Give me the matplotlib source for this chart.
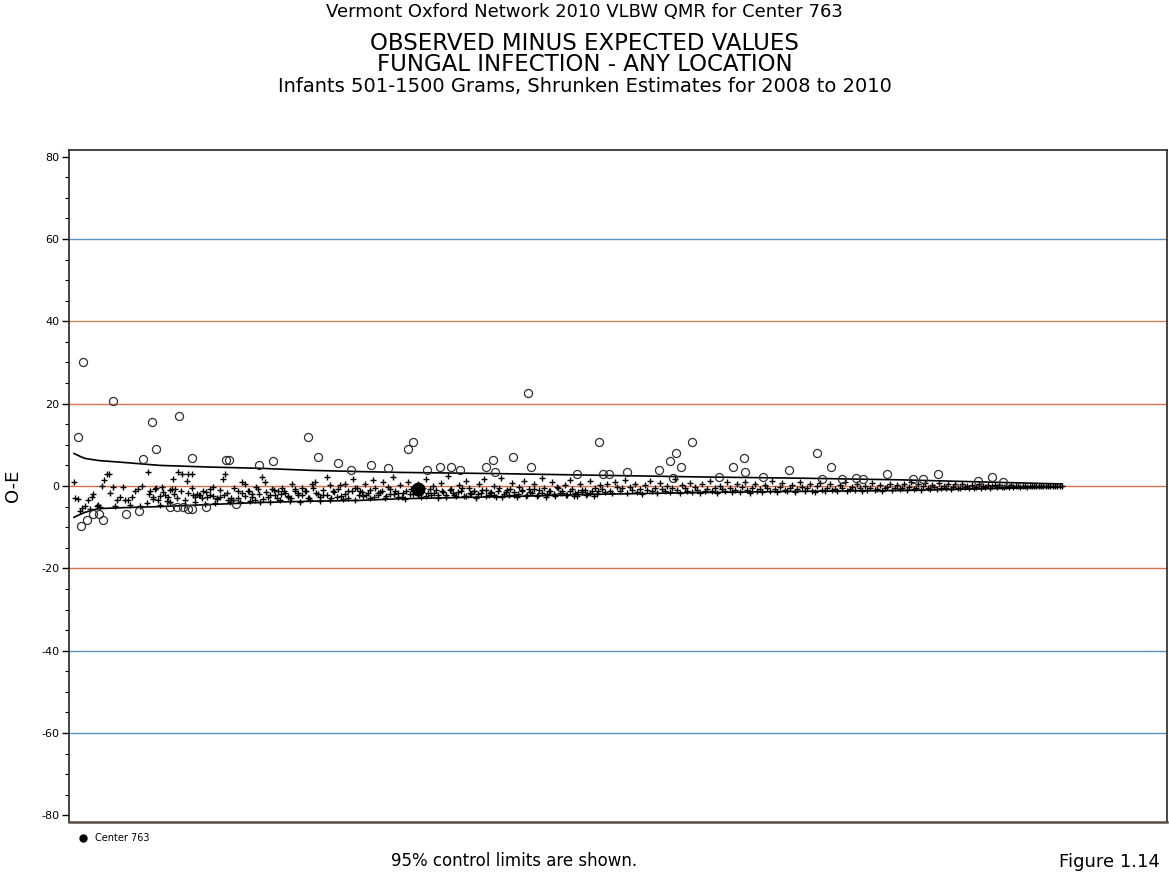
import numpy as np
import matplotlib.pyplot as plt

plt.rcParams['font.family'] = ['DejaVu Sans']
plt.rcParams['axes.unicode_minus'] = False

# Centers ranked by size (x = rank), O-E values
# crosses: centers inside the 95% control limits
cross_a_rank = [5, 6, 9, 13, 16, 19, 23, 24, 28, 29, 33, 35, 38, 40, 41, 44, 48, 51, 54, 56,
                59, 63, 66, 69, 73, 79, 81, 84, 86, 89, 93, 96, 99, 103, 104, 106, 109, 113, 118, 119,
                123, 124, 128, 131, 134, 138, 141, 144, 148, 151, 154, 156, 159, 164, 169, 173, 176, 179, 183, 186,
                189, 193, 196, 199, 203, 206, 209, 213, 216, 219, 223, 226, 229, 233, 236, 239, 243, 246, 249, 254,
                258, 261, 264, 268, 271, 276, 279, 284, 288]
cross_a_val = [1, -2.8, -3.2, -5.3, -4.8, -3.4, -2.6, -2, -4.8, -4.5,
               0, 1.4, 2.8, 2.8, -1.8, -0.3, -3.3, -2.6, -0.3, -3.3,
               -3.4, -2.6, -1.3, -0.8, 0, 3.5, -1.3, -2.6, -0.8, -3.3,
               -0.2, -2.3, -2.6, -0.7, 1.8, -0.8, 3.3, 2.9, 1.1, 2.9,
               2.9, -2.3, -2, -2.3, -1.3, -2.6, -2.3, -0.2, -3, -2.6,
               1.6, 3, -3.4, -3.4, -1.3, 1, 0.6, -1.3, -2, -3.3,
               -0.8, 2.1, 1, -2.6, -0.8, -2.3, -1.3, -0.5, -1.6, -2.6,
               0.6, -1.3, -2.3, -0.5, -1.3, -3, 0.6, 1, -2, -2.3,
               2.1, 0.2, -1.3, -2.6, 0.2, 0.6, -1.3, 1.6, -0.5]
cross_low_rank = [11, 21, 31, 46, 61, 71, 78, 91, 101, 116, 126, 136, 146, 161, 171, 181,
                  191, 201, 211, 221, 231, 241, 251, 261, 274, 286]
cross_low_val = [-6.0, -5.5, -5.0, -4.9, -4.6, -4.8, -4.2, -4.5, -4.0, -4.6, -3.9, -4.3, -4.2,
                 -3.8, -4.0, -3.6, -3.9, -3.9, -3.4, -3.7, -3.8, -3.3, -3.6, -3.5, -3.2, -3.4]

# remaining crosses by rank band: (first rank, last rank, values in rank order)
band_a2 = (80, 290, [-1.9, -3.1, -0.6, -2.4, -1.5, -3.6, -0.9, -2.0, -2.9, -1.1,
                     -3.3, -1.7, -0.4, -2.6, -2.1, -3.0, -1.4, -0.8, -2.5, -3.2,
                     -1.0, -2.2, -1.8, -2.9, -0.6, -3.0, -1.6, -2.4, -1.2, -2.7,
                     -0.3, -2.0, -3.1, -1.5, -2.3, -0.9, -2.8, -1.9, -1.1, -2.5,
                     -3.0, -0.7, -1.8, -2.2, -1.3, -2.9, -0.5, -1.7, -2.6, -1.0,
                     -2.1, -3.0, -1.4, -0.8, -2.4, -1.9, -2.8, -1.2, -0.6, -2.2])
band_b = (291, 531, [-1.2, -2.5, 0.4, -1.8, -3.0, 1.5, -0.6, -2.2, -1.4, 0.9,
                     -2.8, -0.3, -1.9, 2.1, -1.1, -2.6, 0.2, -1.6, -3.1, 1.0,
                     -0.8, -2.0, -1.3, 0.6, -2.7, -0.5, 1.8, -1.7, -2.3, -0.1,
                     -1.0, -2.9, 0.8, -1.5, -2.1, 2.4, -0.7, -1.8, -2.5, 0.3,
                     -1.2, -2.4, 1.2, -0.4, -2.0, -1.1, -2.8, 0.5, -1.6, 1.6,
                     -0.9, -2.2, -1.4, 0.1, -2.6, -0.6, 2.0, -1.9, -1.0, -2.3,
                     0.7, -1.5, -2.7, -0.2, -1.2, 1.3, -2.1, -0.8, -1.7, 0.4,
                     -2.4, -1.0, 1.9, -0.5, -2.0, -1.3, 0.9, -2.5, -0.3, -1.6,
                     -1.1, 0.2, -2.2, 1.5, -0.7, -1.8, -2.4, 0.6, -1.4, -0.9,
                     -2.0, 1.1, -1.2, -0.4, -1.9, 0.3])
band_b2 = (293, 529, [-1.5, -2.2, -0.9, -2.6, -1.8, -1.2, -2.4, -0.7, -2.0, -1.6,
                      -2.7, -1.1, -1.9, -0.6, -2.3, -1.4, -2.5, -0.8, -1.7, -2.1,
                      -1.3, -2.6, -1.0, -2.2, -1.5, -0.5, -2.4, -1.8, -1.2, -2.0,
                      -0.9, -2.5, -1.6, -2.1, -1.1, -2.7, -1.4, -0.7, -2.3, -1.9,
                      -1.0, -2.4, -1.5, -0.8, -2.2, -1.7, -2.6, -1.2, -2.0, -0.6,
                      -1.8, -2.3, -1.1, -2.5, -1.4, -0.9, -2.1, -1.6, -2.4, -1.3])
band_c = (533, 831, [-0.8, -1.5, 0.4, -1.1, -1.8, 0.9, -0.3, -1.3, -0.6, 1.4,
                     -1.6, -0.2, -1.0, 0.6, -1.4, -0.7, -1.9, 0.2, -0.9, 1.1,
                     -1.2, -0.4, -1.7, 0.7, -0.8, -1.3, 0.1, -1.5, -0.5, 1.6,
                     -1.0, -1.8, 0.3, -0.6, -1.2, 0.8, -1.4, -0.2, -0.9, -1.6,
                     0.5, -1.1, -0.7, 1.2, -1.3, -0.4, -1.7, 0.0, -0.8, -1.2,
                     0.9, -0.5, -1.5, -0.9, 0.4, -1.4, -0.3, 1.0, -1.0, -1.6,
                     -0.6, 0.6, -1.2, -0.8, -1.5, 0.2, -0.4, -1.1, 1.3, -0.7,
                     -1.4, -0.2, 0.7, -1.0, -1.3, -0.5, 0.3, -1.5, -0.8, 1.0,
                     -0.3, -1.2, -0.6, 0.5, -1.1, -1.4, -0.1, 0.8, -0.9, -1.3,
                     -0.4, 0.4, -1.0, -0.7, -1.2, 0.2, -0.5, 0.9, -1.1, -0.8,
                     -0.3, -1.0, 0.6, -0.6, -1.2, 0.1, -0.9, -0.4, 0.7, -1.0,
                     -0.7, 0.3, -1.1, -0.5, -0.2, 0.5, -0.9, -0.6, 0.2, -0.8])
band_d = (833, 993, [-0.6, 0.5, -0.9, -0.2, 0.9, -0.7, -0.4, 0.6, -1.0, -0.1,
                     0.8, -0.5, -0.8, 0.3, -0.3, -0.7, 0.7, -0.6, 0.1, -0.4,
                     0.5, -0.7, -0.2, 0.4, -0.5, -0.6, 0.6, -0.3, 0.0, -0.5,
                     0.3, -0.4, -0.2, 0.5, -0.5, 0.1, -0.3, 0.3, -0.4, -0.1,
                     0.2, -0.3, 0.3, -0.2, -0.3, 0.1, -0.2, 0.2, -0.3, 0.0,
                     0.1, -0.2, 0.1, -0.1, -0.2, 0.1, -0.1, 0.0, -0.1, 0.1,
                     -0.1, 0.0, 0.0, -0.1, 0.0, 0.0, 0.0, -0.1, 0.0, 0.0])

# circles: centers outside the control limits
out_rank = [9, 14, 44, 74, 83, 87, 110, 123, 157, 160, 190, 204, 239, 249, 269, 282,
            302, 319, 339, 344, 358, 371, 382, 391, 417, 424, 426, 444, 459, 462, 508, 530,
            534, 540, 558, 590, 601, 604, 607, 612, 623, 650, 664, 675, 676, 694, 720, 748,
            753, 762, 773, 787, 794, 818, 844, 854, 869, 909, 923, 934,
            12, 18, 24, 30, 34, 57, 70, 101, 108, 114, 119, 123, 137, 167]
out_val = [11.8, 30, 20.6, 6.5, 15.5, 8.9, 17, 6.7, 6.2, 6.2, 5.2, 6, 12, 7, 5.7, 4,
           5, 4.3, 9.1, 10.6, 3.8, 4.5, 4.5, 4, 4.5, 6.2, 3.3, 7, 22.5, 4.7, 3, 10.8,
           3, 3, 3.5, 4, 6, 2, 7.9, 4.7, 10.8, 2.3, 4.5, 6.7, 3.3, 2.3, 3.8, 7.9,
           1.6, 4.7, 1.6, 2, 1.8, 3, 1.8, 1.6, 2.8, 1.1, 2.1, 0.9,
           -9.6, -8.2, -6.7, -6.7, -8.2, -6.7, -6, -5, -5, -5, -5.5, -5.5, -5.2, -4.3]

center_rank = 349
center_val = -0.8

# 95% control limits
limit_rank = [5, 11, 16, 29, 61, 91, 141, 191, 241, 291, 331, 431, 531, 631, 731, 831, 911, 993]
upper_limit = [7.9, 7.2, 6.7, 6.2, 5.6, 5.0, 4.6, 4.3, 3.8, 3.5, 3.3, 3.0, 2.6, 2.2, 1.9, 1.5, 1.0, 0.5]
lower_limit = [-7.6, -6.9, -6.4, -5.5, -5.2, -5.0, -4.5, -4.0, -3.7, -3.5, -3.1, -2.6, -2.0, -1.6, -1.3, -1.1, -0.7, -0.3]

grid_levels = [60, 40, 20, 0, -20, -40, -60]
grid_colors = ['#5b93bf', '#c98560', '#d9704e', '#d9704e', '#d9704e', '#5b93bf', '#5b93bf']

fig = plt.figure(figsize=(11.69, 8.76), dpi=100)
ax = fig.add_axes([69 / 1169, 54 / 876, 1098 / 1169, 672 / 876])

for lev, col in zip(grid_levels, grid_colors):
    ax.axhline(lev, color=col, lw=1.0, zorder=1)

ax.plot(limit_rank, upper_limit, color='black', lw=1.2, zorder=3)
ax.plot(limit_rank, lower_limit, color='black', lw=1.2, zorder=3)

ax.plot(cross_a_rank, cross_a_val, '+', color='black', ms=4.2, mew=1.0, zorder=4)
ax.plot(cross_low_rank, cross_low_val, '+', color='black', ms=4.2, mew=1.0, zorder=4)
for r0, r1, vals in [band_a2, band_b, band_b2, band_c, band_d]:
    ranks = np.linspace(r0, r1, len(vals))
    ax.plot(ranks, vals, '+', color='black', ms=4.2, mew=1.0, zorder=4)

ax.plot(out_rank, out_val, 'o', mfc='none', mec='#303030', ms=5.8, mew=0.9, zorder=4)
ax.plot([center_rank], [center_val], 'o', color='black', ms=9, zorder=5)

ax.set_xlim(0, 1098)
ax.set_ylim(-81.6, 81.6)
ax.set_xticks([])
ax.set_yticks([-80, -60, -40, -20, 0, 20, 40, 60, 80])
ax.set_yticks(np.arange(-80, 81, 5), minor=True)
ax.tick_params(axis='y', which='major', length=5, width=1, labelsize=8, colors='black', pad=2)
ax.tick_params(axis='y', which='minor', length=3, width=0.8)
ax.set_ylabel('O-E', fontsize=13, labelpad=14)
for side in ['left', 'right', 'top']:
    ax.spines[side].set_color('#2a2420')
    ax.spines[side].set_linewidth(1.2)
ax.spines['bottom'].set_color('#5a4c46')
ax.spines['bottom'].set_linewidth(1.8)

fig.text(0.5, 1 - 12 / 876, 'Vermont Oxford Network 2010 VLBW QMR for Center 763',
         ha='center', va='center', fontsize=13)
fig.text(0.5, 1 - 32 / 876, 'OBSERVED MINUS EXPECTED VALUES\nFUNGAL INFECTION - ANY LOCATION',
         ha='center', va='top', fontsize=16.5, linespacing=0.87, multialignment='center')
fig.text(0.5, 1 - 91.5 / 876, 'Infants 501-1500 Grams, Shrunken Estimates for 2008 to 2010',
         ha='center', va='baseline', fontsize=14)

fig.lines.append(plt.Line2D([83 / 1169], [1 - 838 / 876], marker='o', color='black', ms=5,
                            transform=fig.transFigure))
fig.text(95 / 1169, 1 - 838 / 876, 'Center 763', ha='left', va='center', fontsize=7)
fig.text(514 / 1169, 1 - 861 / 876, '95% control limits are shown.', ha='center', va='center', fontsize=12)
fig.text(1160 / 1169, 1 - 862 / 876, 'Figure 1.14', ha='right', va='center', fontsize=13)

fig.savefig('out.png', dpi=100)
